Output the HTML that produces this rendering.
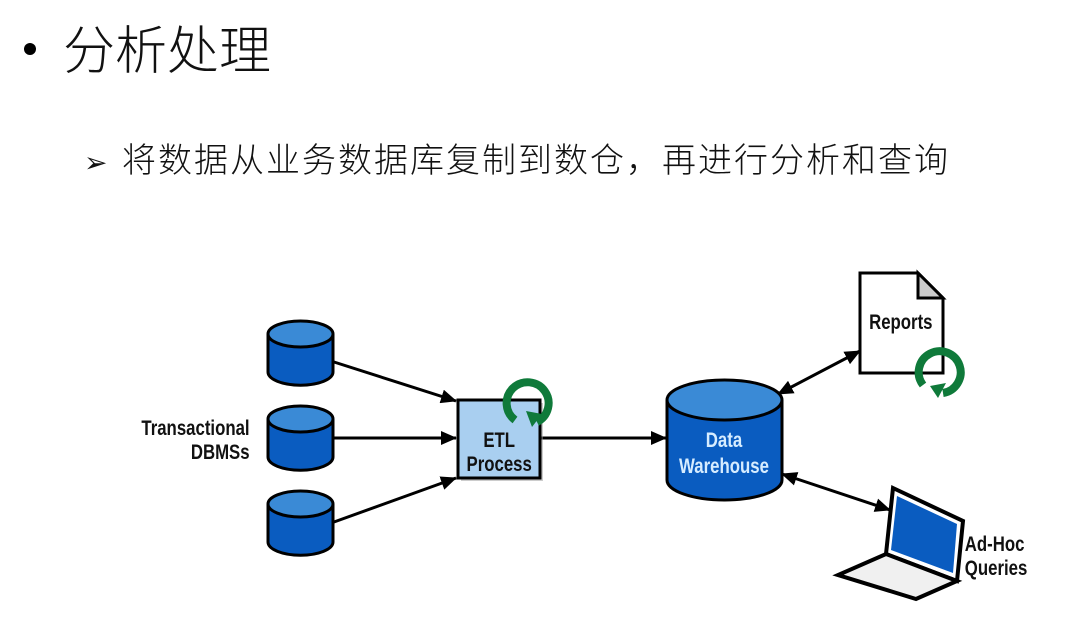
<!DOCTYPE html>
<html><head><meta charset="utf-8"><style>
html,body{margin:0;padding:0;background:#fff;}
body{width:1065px;height:630px;overflow:hidden;position:relative;}
</style></head><body>
<svg width="1065" height="630" viewBox="0 0 1065 630" xmlns="http://www.w3.org/2000/svg">
<defs>
<marker id="ah" markerWidth="16" markerHeight="14" refX="15" refY="7" orient="auto-start-reverse" markerUnits="userSpaceOnUse"><path d="M0,0 L16,7 L0,14 z" fill="#000"/></marker>
</defs>
<g font-family="'Noto Sans CJK SC','WenQuanYi Zen Hei',sans-serif" fill="#111">
<circle cx="30" cy="49" r="6" fill="#000"/>
<text x="63" y="69" font-size="52" font-weight="300">分析处理</text>
<text x="84" y="172" font-size="28">➢</text>
<text x="122" y="172" font-size="34" letter-spacing="2" font-weight="300">将数据从业务数据库复制到数仓，再进行分析和查询</text>
</g>
<g stroke="#000" stroke-width="3">
<line x1="334" y1="362" x2="456" y2="401" marker-end="url(#ah)"/>
<line x1="334" y1="438" x2="456" y2="438" marker-end="url(#ah)"/>
<line x1="334" y1="522" x2="456" y2="478" marker-end="url(#ah)"/>
<line x1="541" y1="438" x2="666" y2="438" marker-end="url(#ah)"/>
<line x1="778" y1="394" x2="860" y2="351" marker-start="url(#ah)" marker-end="url(#ah)"/>
<line x1="782" y1="474" x2="890" y2="510" marker-start="url(#ah)" marker-end="url(#ah)"/>
</g>
<g stroke="#000" stroke-width="3">
<path d="M268,334 v38 a32,13 0 0 0 65,0 v-38" fill="#0a5cc0"/><ellipse cx="300.5" cy="334" rx="32.5" ry="13" fill="#3a8ad6"/>
<path d="M268,419 v38 a32,13 0 0 0 65,0 v-38" fill="#0a5cc0"/><ellipse cx="300.5" cy="419" rx="32.5" ry="13" fill="#3a8ad6"/>
<path d="M268,504 v38 a32,13 0 0 0 65,0 v-38" fill="#0a5cc0"/><ellipse cx="300.5" cy="504" rx="32.5" ry="13" fill="#3a8ad6"/>
<rect x="461" y="403" width="82" height="78" fill="#999" stroke="none" opacity=".5"/>
<rect x="458" y="400" width="82" height="78" fill="#a9cff0"/>
<path d="M667,400 v80 a57.5,20 0 0 0 115,0 v-80" fill="#0a5cc0"/><ellipse cx="724.5" cy="400" rx="57.5" ry="20" fill="#3a8ad6"/>
<path d="M860,273 h58 l25,25 v75 h-83 z" fill="#fff"/><path d="M918,273 v25 h25 z" fill="#ccc"/>
<path d="M893,488 l70,33 l-6,60 l-71,-27 z" fill="#fff" stroke-width="4"/>
<path d="M897,496 l60,28 l-4,49 l-62,-23 z" fill="#0a5cc0" stroke="none"/>
<path d="M886,554 l71,27 l-41,18 l-78,-24 z" fill="#f0f0f0" stroke-width="4"/>
</g>
<g fill="none" stroke="#0f7a3a" stroke-width="8">
<path d="M515,420 a21,21 0 1 1 22,2"/>
<path d="M923,385 a21,21 0 1 1 20,8"/>
</g>
<path d="M526,411 l16,3 l-10,13 z" fill="#0f7a3a"/>
<path d="M930,386 l16,-3 l-8,15 z" fill="#0f7a3a"/>
<g font-family="'Liberation Sans',sans-serif" font-size="21" font-weight="bold" text-anchor="middle" transform="scale(0.8,1)">
<text x="624" y="447" fill="#111">ETL</text>
<text x="624" y="471" fill="#111">Process</text>
<text x="905" y="447" fill="#d6ecff">Data</text>
<text x="905" y="473" fill="#d6ecff">Warehouse</text>
<text x="1126" y="329" fill="#111">Reports</text>
<text x="312" y="435" text-anchor="end" fill="#111">Transactional</text>
<text x="312" y="459" text-anchor="end" fill="#111">DBMSs</text>
<text x="1206" y="551" text-anchor="start" fill="#111">Ad-Hoc</text>
<text x="1206" y="575" text-anchor="start" fill="#111">Queries</text>
</g>
</svg>
</body></html>
